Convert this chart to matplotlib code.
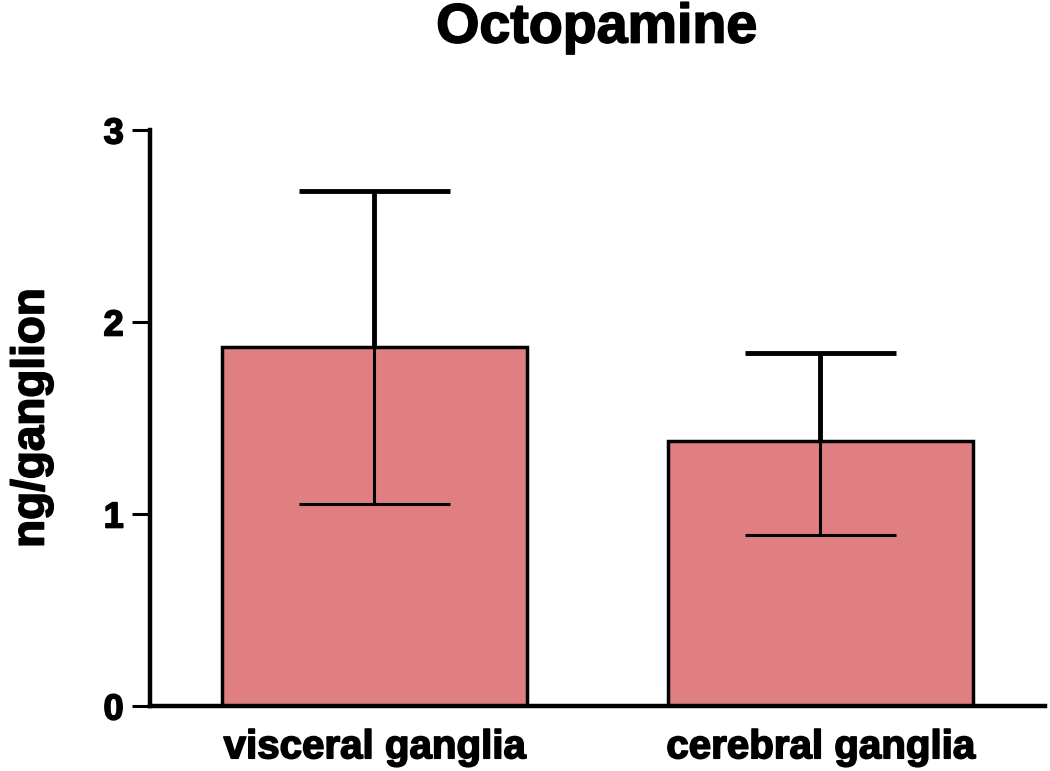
import matplotlib
matplotlib.use('Agg')
import matplotlib.pyplot as plt
import matplotlib.patheffects as pe

# данные с графика
categories = ['visceral ganglia', 'cerebral ganglia']
means = [1.87, 1.38]
upper = [2.68, 1.84]
lower = [1.05, 0.89]

plt.rcParams['font.family'] = ['Liberation Sans', 'DejaVu Sans']
plt.rcParams['font.weight'] = 'bold'

# чуть толще шрифт, как в оригинале
heavy = [pe.withStroke(linewidth=1.2, foreground='black')]

fig = plt.figure(figsize=(10.5, 7.71), dpi=100)
ax = fig.add_axes([0.1429, 0.0843, 0.8521, 0.7471])

x = list(range(len(categories)))
ax.bar(x, means, width=0.684, color='#E07F81', edgecolor='black', linewidth=2.5, zorder=2)

# верхние и нижние усы рисуем отдельно (нижние тоньше)
for xi, m, up, lo in zip(x, means, upper, lower):
    ax.plot([xi, xi], [m, up], color='black', lw=3.5, zorder=3, solid_capstyle='butt')
    ax.plot([xi - 0.17, xi + 0.17], [up, up], color='black', lw=3.5, zorder=3, solid_capstyle='butt')
    ax.plot([xi, xi], [lo, m], color='black', lw=2.2, zorder=3, solid_capstyle='butt')
    ax.plot([xi - 0.17, xi + 0.17], [lo, lo], color='black', lw=2.2, zorder=3, solid_capstyle='butt')

ax.set_xlim(-0.503, 1.503)
ax.set_ylim(0, 3)
ax.set_yticks([0, 1, 2, 3])
ax.set_xticks(x)
ax.set_xticklabels(categories, fontsize=29, fontweight='bold')
ax.tick_params(axis='x', length=0, pad=16)
ax.tick_params(axis='y', length=13, width=2.2, labelsize=26, pad=6)
for lab in ax.get_yticklabels() + ax.get_xticklabels():
    lab.set_fontweight('bold')
    lab.set_path_effects(heavy)

ax.spines['top'].set_visible(False)
ax.spines['right'].set_visible(False)
ax.spines['left'].set_linewidth(3.2)
ax.spines['bottom'].set_linewidth(3.2)

yl = ax.set_ylabel('ng/ganglion', fontsize=33, fontweight='bold', labelpad=36)
yl.set_path_effects(heavy)
t = fig.text(0.568, 0.963, 'Octopamine', fontsize=40, fontweight='bold', ha='center', va='center')
t.set_path_effects(heavy)

plt.savefig('out.png', dpi=100)
